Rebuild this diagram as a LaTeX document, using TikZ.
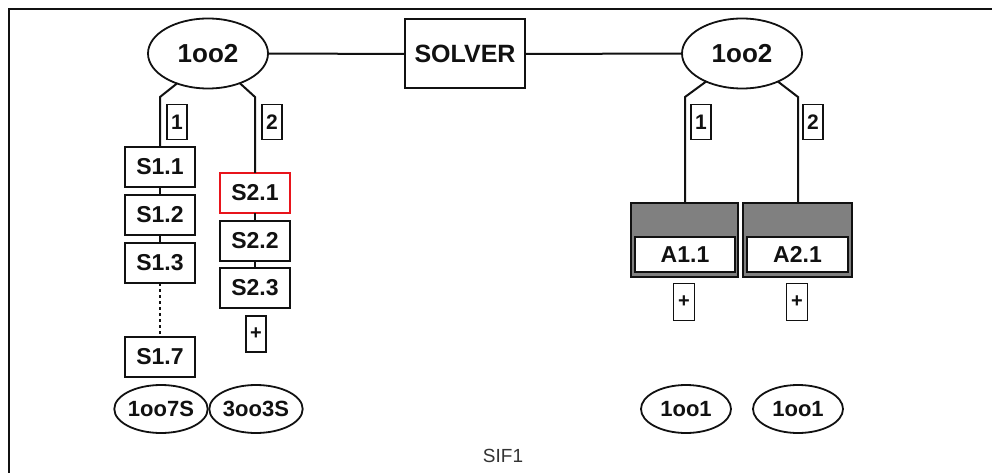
\documentclass[tikz,border=0pt]{standalone}
\usepackage{fontspec}
\setmainfont{Liberation Sans}
\usetikzlibrary{shapes.geometric}
\definecolor{ink}{HTML}{111111}
\definecolor{boxgray}{HTML}{808080}
\definecolor{redbox}{HTML}{E8141B}
\definecolor{captxt}{HTML}{333333}
\tikzset{
 ln/.style={draw=ink, line width=2pt},
 ell/.style={ellipse, draw=ink, line width=1.8pt, inner sep=0pt, outer sep=0pt, font=\fontsize{26}{30}\selectfont\bfseries, text=ink},
 sell/.style={ell, minimum width=90pt, minimum height=48pt, font=\fontsize{22}{26}\selectfont\bfseries},
 sbox/.style={rectangle, draw=ink, line width=2pt, minimum width=70pt, minimum height=40pt, inner sep=0pt, outer sep=0pt, font=\fontsize{23}{27}\selectfont\bfseries, text=ink},
 lbl/.style={rectangle, draw=ink, line width=1.8pt, minimum width=20pt, minimum height=35pt, inner sep=0pt, outer sep=0pt, font=\fontsize{21}{25}\selectfont\bfseries, text=ink},
 plusbox/.style={lbl, minimum height=36pt, font=\fontsize{20}{22}\selectfont\bfseries},
 actout/.style={rectangle, draw=ink, line width=2pt, fill=boxgray, minimum height=74pt, inner sep=0pt, outer sep=0pt},
 actin/.style={rectangle, draw=ink, line width=1.8pt, fill=white, minimum height=35pt, inner sep=0pt, outer sep=0pt, font=\fontsize{23}{27}\selectfont\bfseries, text=ink},
}
\begin{document}
\begin{tikzpicture}[x=1pt,y=-1pt]
\useasboundingbox (0,0) rectangle (992,473);
\fill[white] (0,0) rectangle (992,473);
% frame
\draw[draw=ink, line width=2.4pt] (9,473) -- (9,9) -- (992,9);

% top row
\node[ell, minimum width=120pt, minimum height=70pt] (e1) at (208,53.5) {1oo2};
\node[sbox, minimum width=120pt, minimum height=69pt, font=\fontsize{25}{29}\selectfont\bfseries] (solver) at (465,54) {SOLVER};
\node[ell, minimum width=120pt, minimum height=70pt] (e2) at (742,53.5) {1oo2};
\draw[ln] (e1) -- (solver);
\draw[ln] (solver) -- (e2);

% left sensor group
\coordinate (c11) at (160,97);
\coordinate (c12) at (255,97);
\node[sbox] (s11) at (160,167) {S1.1};
\node[sbox] (s12) at (160,215) {S1.2};
\node[sbox] (s13) at (160,263) {S1.3};
\node[sbox] (s17) at (160,357) {S1.7};
\node[sbox, draw=redbox] (s21) at (255,193) {S2.1};
\node[sbox] (s22) at (255,241) {S2.2};
\node[sbox] (s23) at (255,288) {S2.3};
\node[plusbox] (p2) at (256,334) {+};
\node[lbl] (l11) at (177,122) {1};
\node[lbl] (l12) at (272,122) {2};
\draw[ln] (e1.224) -- (c11) -- (s11.north);
\draw[ln] (e1.317) -- (c12) -- (s21.north);
\draw[ln] (s11) -- (s12);
\draw[ln] (s12) -- (s13);
\draw[draw=ink, line width=2.6pt, dash pattern=on 2.6pt off 3.4pt] (s13.south) -- (s17.north);
\draw[ln] (s21) -- (s22);
\draw[ln] (s22) -- (s23);
\node[sell] (o17) at (161,409) {1oo7S};
\node[sell] (o33) at (256,409) {3oo3S};

% right actuator group
\coordinate (c21) at (685,97);
\coordinate (c22) at (798,97);
\node[lbl] (l21) at (701,122) {1};
\node[lbl] (l22) at (813,122) {2};
\node[actout, minimum width=107pt] (a1) at (684.5,240) {};
\node[actin, minimum width=100pt] (a1l) at (685,254.5) {A1.1};
\node[actout, minimum width=109pt] (a2) at (797.5,240) {};
\node[actin, minimum width=101pt] (a2l) at (797.5,254.5) {A2.1};
\draw[ln] (e2.218) -- (c21) -- (c21 |- a1.north);
\draw[ln] (e2.322) -- (c22) -- (c22 |- a2.north);
\node[plusbox, minimum width=21pt, minimum height=37pt] (p3) at (684,302) {+};
\node[plusbox, minimum width=21pt, minimum height=37pt] (p4) at (797,302) {+};
\node[sell] (o1a) at (686,409) {1oo1};
\node[sell] (o1b) at (798,409) {1oo1};

% caption
\node[font=\fontsize{19}{22}\selectfont, text=captxt, inner sep=0pt] (cap) at (503,455.5) {SIF1};
\end{tikzpicture}
\end{document}
